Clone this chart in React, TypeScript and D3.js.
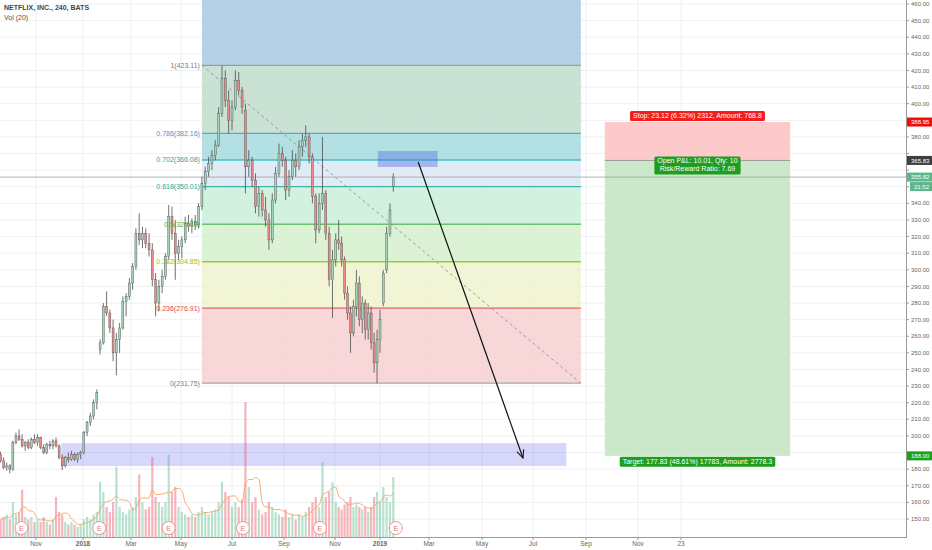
import React, { useEffect, useRef } from "react";
import * as d3 from "d3";

const W = 932;
const H = 550;

const title = "NETFLIX, INC., 240, BATS";
const volTitle = "Vol (20)";

// candles: one every 4 days from the first date, [open, high, low, close]
const firstCandle = "2017-09-16";
const candleStepDays = 4;
const candles: [number, number, number, number][] = [
  [189, 190.5, 184, 185], [185, 187, 180, 181], [181, 184, 179, 182], [182, 183, 177.5, 180],
  [180, 197, 179, 196], [196, 202, 195, 200], [200, 204, 197, 198], [198, 201, 193, 194],
  [194, 197, 191, 196], [196, 198, 192, 193], [193, 199, 192, 198], [198, 201, 195, 196],
  [196, 201, 194, 199], [199, 199.5, 192, 193], [193, 195, 189, 190], [190, 196, 189, 195],
  [195, 197, 192, 194], [194, 198, 192, 197], [197, 199, 193, 194], [194, 195, 186, 187],
  [187, 189, 179.5, 182], [182, 188, 181, 187], [187, 190, 184, 186], [186, 191, 185, 189],
  [189, 190, 185, 186], [186, 190, 184, 189], [189, 191, 186, 190], [190, 203, 189, 202],
  [202, 209, 200, 208], [208, 214, 206, 212], [212, 222, 210, 220], [220, 228, 216, 226],
  [252, 258, 249, 256], [256, 280, 255, 278], [278, 287, 272, 274], [274, 276, 262, 265],
  [265, 270, 245, 250], [250, 262, 236.5, 258], [258, 268, 250, 265], [265, 284, 264, 281],
  [281, 286, 272, 284], [284, 295, 282, 292], [292, 304, 288, 302], [302, 325, 300, 322],
  [322, 334, 315, 318], [318, 326, 313, 322], [322, 325, 313, 316], [316, 322, 308, 312],
  [312, 316, 290, 294], [294, 298, 272, 280], [280, 294, 275, 290], [290, 300, 286, 296],
  [296, 310, 294, 308], [308, 339, 306, 332], [332, 338, 318, 322], [322, 330, 294, 310],
  [310, 318, 306, 314], [314, 320, 307, 318], [318, 332, 316, 328], [328, 333, 323, 326],
  [326, 331, 322, 329], [329, 333, 324, 327], [327, 340, 325, 338], [338, 356, 336, 352],
  [352, 362, 348, 359], [359, 368, 356, 364], [364, 372, 360, 369], [369, 378, 366, 375],
  [375, 398, 374, 394], [394, 423.11, 392, 415], [415, 420, 398, 402], [402, 408, 382, 390],
  [390, 402, 384, 398], [398, 420, 396, 414], [414, 419, 405, 408], [408, 410, 394, 398],
  [396, 400, 346, 362], [362, 372, 356, 366], [366, 368, 350, 354], [354, 358, 334, 338],
  [338, 350, 332, 346], [346, 348, 332, 336], [336, 344, 326, 330], [330, 334, 312, 318],
  [318, 346, 316, 342], [342, 362, 340, 358], [358, 376, 356, 370], [370, 374, 362, 366],
  [366, 368, 342, 348], [348, 360, 344, 356], [356, 372, 354, 366], [366, 370, 356, 362],
  [362, 378, 360, 374], [374, 382, 368, 378], [378, 387, 374, 380], [380, 382, 364, 368],
  [368, 370, 340, 344], [344, 346, 316, 324], [324, 346, 322, 340], [340, 380, 336, 346],
  [346, 348, 318, 322], [322, 326, 290, 294], [294, 312, 271, 306], [306, 322, 302, 318],
  [318, 330, 312, 316], [316, 320, 302, 306], [306, 308, 282, 286], [286, 290, 270, 274],
  [274, 278, 250, 262], [262, 282, 260, 278], [278, 300, 272, 292], [292, 296, 266, 270],
  [270, 284, 262, 280], [280, 282, 258, 264], [264, 280, 258, 274], [274, 278, 252, 256],
  [256, 262, 238, 244], [244, 264, 231.75, 258], [258, 276, 250, 270], [280, 300, 278, 298],
  [300, 326, 298, 322], [322, 340, 320, 336], [350, 358, 347, 355.82],
];

// volume per candle (millions)
const volumes = [
  7, 8, 9, 7, 14, 9, 10, 19, 8, 7, 8, 6,
  7, 6, 8, 6, 5, 7, 16, 10, 9, 6, 5, 6,
  5, 4, 5, 7, 8, 7, 9, 10, 22, 18, 12, 10,
  14, 28, 12, 10, 9, 11, 12, 16, 25, 14, 11, 12,
  32, 16, 14, 12, 14, 33, 18, 20, 12, 10, 9, 8,
  9, 8, 10, 12, 10, 9, 10, 11, 14, 22, 18, 16,
  12, 14, 12, 15, 54, 20, 14, 16, 11, 9, 10, 14,
  12, 10, 9, 8, 11, 8, 9, 7, 9, 8, 10, 12,
  14, 16, 12, 30, 16, 18, 22, 14, 12, 11, 13, 14,
  16, 12, 13, 12, 11, 12, 10, 12, 16, 18, 14, 20,
  16, 14, 24,
];

const xTickDates = [
  "2017-11-01", "2018-01-01", "2018-03-01", "2018-05-01", "2018-07-01", "2018-09-01",
  "2018-11-01", "2019-01-01", "2019-03-01", "2019-05-01", "2019-07-01", "2019-09-01",
  "2019-11-01", "2019-12-23",
];
const xTickLabels = ["Nov", "2018", "Mar", "May", "Jul", "Sep", "Nov", "2019", "Mar", "May", "Jul", "Sep", "Nov", "23"];
const xTickPx = [36, 83, 131, 181, 232, 284, 335, 380, 429, 482, 533, 586, 638, 681];

const earnings = ["2017-10-13", "2018-01-21", "2018-04-16", "2018-07-14", "2018-10-14", "2019-01-20"];

// fibonacci retracement
const fibHigh = 423.11;
const fibLow = 231.75;
const fibStart = "2018-05-26";
const fibEnd = "2019-08-26";
const fibLevels = [1, 0.786, 0.702, 0.618, 0.5, 0.382, 0.236, 0];
const fibLine = ["#93a3a3", "#64a0dc", "#3fbfc6", "#3db3aa", "#6cc070", "#a0c83c", "#e06464", "#a8a8a8"];
const fibText = ["#808080", "#4f93d6", "#26a69a", "#26a69a", "#4caf50", "#9aba2a", "#e04848", "#808080"];
const fibZone = ["#aecbe2", "#c0ddcd", "#a6dadd", "#dce8f5", "#cbeed9", "#d6f0cd", "#eff3cf", "#f6d0d0"];

// short position tool
const posStart = "2019-09-23";
const posEnd = "2020-05-03";
const entry = 365.83;
const stop = 388.95;
const target = 188.0;
const stopText = "Stop: 23.12 (6.32%) 2312, Amount: 768.8";
const pnlText = ["Open P&L: 10.01, Qty: 10", "Risk/Reward Ratio: 7.69"];
const targetText = "Target: 177.83 (48.61%) 17783, Amount: 2778.3";

const lastPrice = 355.82;
const countdown = "21:52";

const boxes = [
  { start: "2018-12-29", end: "2019-03-11", top: 371.5, bottom: 361.9, fill: "rgba(80,110,225,0.42)" },
  { start: "2017-12-04", end: "2019-08-09", top: 195.7, bottom: 181.9, fill: "rgba(110,110,240,0.28)" },
];
const arrowFrom: [string, number] = ["2019-02-16", 364.9];
const arrowTo: [string, number] = ["2019-06-19", 186.7];

const font = "'Liberation Sans', Arial, sans-serif";
const parse = d3.timeParse("%Y-%m-%d");

export default function App() {
  const ref = useRef<SVGSVGElement | null>(null);

  useEffect(() => {
    const svg = d3.select(ref.current);
    svg.selectAll("*").remove();

    const right = 906;
    const bottom = 537;

    const x = d3.scaleTime().domain(xTickDates.map((d) => parse(d)!)).range(xTickPx);
    const y = d3.scaleLinear().domain([150, 460]).range([519, 4]);
    const v = d3.scaleLinear().domain([0, 54]).range([bottom, bottom - 135]);
    const xd = (s: string) => x(parse(s)!);

    svg.append("rect").attr("width", W).attr("height", H).attr("fill", "#fff");

    svg.append("defs").append("clipPath").attr("id", "plot")
      .append("rect").attr("width", right).attr("height", bottom);

    const marker = svg.select("defs").append("marker")
      .attr("id", "arrow").attr("viewBox", "0 -5 10 10").attr("refX", 9).attr("refY", 0)
      .attr("markerWidth", 9).attr("markerHeight", 9).attr("orient", "auto")
      .attr("markerUnits", "userSpaceOnUse");
    marker.append("path").attr("d", "M0,-4L9,0L0,4").attr("fill", "none").attr("stroke", "#111").attr("stroke-width", 1.2);

    const yTicks = d3.range(150, 461, 10);

    // grid
    const grid = svg.append("g");
    yTicks.forEach((t) => {
      grid.append("line").attr("x1", 0).attr("x2", right).attr("y1", y(t)).attr("y2", y(t))
        .attr("stroke", "#eef0f3").attr("stroke-width", 1);
    });
    xTickDates.forEach((d) => {
      grid.append("line").attr("x1", xd(d)).attr("x2", xd(d)).attr("y1", 0).attr("y2", bottom)
        .attr("stroke", "#eef0f3").attr("stroke-width", 1);
    });

    const plot = svg.append("g").attr("clip-path", "url(#plot)");

    // fib zones
    const fx0 = xd(fibStart);
    const fx1 = xd(fibEnd);
    const fibPrice = (l: number) => fibLow + l * (fibHigh - fibLow);
    plot.append("rect").attr("x", fx0).attr("width", fx1 - fx0)
      .attr("y", 0).attr("height", y(fibHigh)).attr("fill", fibZone[0]).attr("opacity", 0.9);
    for (let i = 0; i < fibLevels.length - 1; i++) {
      const a = y(fibPrice(fibLevels[i]));
      const b = y(fibPrice(fibLevels[i + 1]));
      plot.append("rect").attr("x", fx0).attr("width", fx1 - fx0)
        .attr("y", a).attr("height", b - a).attr("fill", fibZone[i + 1]).attr("opacity", 0.85);
    }
    fibLevels.forEach((l, i) => {
      const py = y(fibPrice(l));
      plot.append("line").attr("x1", fx0).attr("x2", fx1).attr("y1", py).attr("y2", py)
        .attr("stroke", fibLine[i]).attr("stroke-width", 1.3);
    });
    plot.append("line")
      .attr("x1", fx0).attr("y1", y(fibHigh)).attr("x2", fx1).attr("y2", y(fibLow))
      .attr("stroke", "#999").attr("stroke-width", 1).attr("stroke-dasharray", "3,3");

    // position tool
    const px0 = xd(posStart);
    const px1 = xd(posEnd);
    plot.append("rect").attr("x", px0).attr("width", px1 - px0)
      .attr("y", y(stop)).attr("height", y(entry) - y(stop)).attr("fill", "#fccaca");
    plot.append("rect").attr("x", px0).attr("width", px1 - px0)
      .attr("y", y(entry)).attr("height", y(target) - y(entry)).attr("fill", "#cbe8cb");
    plot.append("line").attr("x1", px0).attr("x2", px1).attr("y1", y(entry)).attr("y2", y(entry))
      .attr("stroke", "#999").attr("stroke-width", 1);

    // boxes
    boxes.forEach((b) => {
      plot.append("rect").attr("x", xd(b.start)).attr("width", xd(b.end) - xd(b.start))
        .attr("y", y(b.top)).attr("height", y(b.bottom) - y(b.top)).attr("fill", b.fill);
    });

    // last price line
    plot.append("line").attr("x1", 0).attr("x2", right).attr("y1", y(lastPrice)).attr("y2", y(lastPrice))
      .attr("stroke", "#a0a0a0").attr("stroke-width", 0.8);

    // volume
    const start = parse(firstCandle)!;
    const cdate = (i: number) => d3.timeDay.offset(start, i * candleStepDays);
    const vg = plot.append("g");
    volumes.forEach((vol, i) => {
      const c = candles[i];
      const up = c[3] >= c[0];
      vg.append("rect").attr("x", x(cdate(i)) - 1.1).attr("width", 2.2)
        .attr("y", v(vol)).attr("height", bottom - v(vol))
        .attr("fill", up ? "rgba(83,185,135,0.42)" : "rgba(235,77,92,0.42)");
    });
    const ma = volumes.map((_, i) => d3.mean(volumes.slice(Math.max(0, i - 4), i + 1))!);
    vg.append("path").datum(ma)
      .attr("fill", "none").attr("stroke", "#f4a460").attr("stroke-width", 0.9)
      .attr("d", d3.line<number>().x((_, i) => x(cdate(i))).y((d) => v(d)).curve(d3.curveMonotoneX));

    // candles
    const cg = plot.append("g");
    candles.forEach(([o, h, l, c], i) => {
      const cx = x(cdate(i));
      cg.append("line").attr("x1", cx).attr("x2", cx).attr("y1", y(h)).attr("y2", y(l))
        .attr("stroke", "#4d4d4d").attr("stroke-width", 0.8);
      const top = y(Math.max(o, c));
      const hgt = Math.max(0.8, y(Math.min(o, c)) - top);
      cg.append("rect").attr("x", cx - 1).attr("width", 2).attr("y", top).attr("height", hgt)
        .attr("fill", c >= o ? "#9fd4b9" : "#ee8a8a").attr("stroke", "#4d4d4d").attr("stroke-width", 0.4);
    });

    // arrow
    plot.append("line")
      .attr("x1", xd(arrowFrom[0])).attr("y1", y(arrowFrom[1]))
      .attr("x2", xd(arrowTo[0])).attr("y2", y(arrowTo[1]))
      .attr("stroke", "#111").attr("stroke-width", 1.2).attr("marker-end", "url(#arrow)");

    // earnings markers
    earnings.forEach((d) => {
      const ex = xd(d);
      plot.append("circle").attr("cx", ex).attr("cy", 528).attr("r", 6.5)
        .attr("fill", "#fff").attr("stroke", "#f09090").attr("stroke-width", 1);
      plot.append("text").attr("x", ex).attr("y", 528).attr("dy", "0.36em")
        .attr("text-anchor", "middle").attr("font-family", font).attr("font-size", 7)
        .attr("fill", "#e57373").text("E");
    });

    // fib labels
    fibLevels.forEach((l, i) => {
      svg.append("text").attr("x", fx0 - 2).attr("y", y(fibPrice(l))).attr("dy", "0.35em")
        .attr("text-anchor", "end").attr("font-family", font).attr("font-size", 7)
        .attr("fill", fibText[i]).text(`${l}(${fibPrice(l).toFixed(2)})`);
    });

    // tag helper
    const tag = (lines: string[], cx: number, yTop: number, bg: string) => {
      const g = svg.append("g");
      const t = g.append("text").attr("font-family", font).attr("font-size", 7)
        .attr("fill", "#fff").attr("text-anchor", "middle");
      lines.forEach((s, k) => {
        t.append("tspan").attr("x", cx).attr("y", yTop + 7 + k * 8).text(s);
      });
      const bb = (t.node() as SVGTextElement).getBBox();
      g.insert("rect", "text").attr("x", bb.x - 3).attr("y", yTop).attr("width", bb.width + 6)
        .attr("height", lines.length * 8 + 2).attr("rx", 1.5).attr("fill", bg);
    };
    const pcx = (px0 + px1) / 2;
    tag([stopText], pcx, y(stop) - 11, "#f51d1d");
    tag(pnlText, pcx, y(entry) - 4, "#1f9d1f");
    tag([targetText], pcx, y(target) + 1, "#1f9d1f");

    // right axis
    const tags = [
      { price: stop, label: stop.toFixed(2), bg: "#f20d0d", dy: 0, inset: 0 },
      { price: entry, label: entry.toFixed(2), bg: "#404040", dy: 0, inset: 0 },
      { price: lastPrice, label: lastPrice.toFixed(2), bg: "#5cb88a", dy: 0, inset: 0 },
      { price: lastPrice, label: countdown, bg: "#5cb88a", dy: 9.5, inset: 3 },
      { price: target, label: target.toFixed(2), bg: "#1fa01f", dy: 0, inset: 0 },
    ];
    const tagYs = tags.map((t) => y(t.price) + t.dy);
    const ax = svg.append("g");
    ax.append("line").attr("x1", right + 0.5).attr("x2", right + 0.5).attr("y1", 0).attr("y2", bottom)
      .attr("stroke", "#9a9a9a");
    yTicks.forEach((t) => {
      ax.append("line").attr("x1", right).attr("x2", right + 3).attr("y1", y(t)).attr("y2", y(t))
        .attr("stroke", "#9a9a9a");
      if (tagYs.some((ty) => Math.abs(ty - y(t)) < 8)) return;
      ax.append("text").attr("x", right + 5).attr("y", y(t)).attr("dy", "0.35em")
        .attr("font-family", font).attr("font-size", 6).attr("fill", "#666").text(t.toFixed(2));
    });
    tags.forEach((t, k) => {
      const py = tagYs[k];
      ax.append("rect").attr("x", right + 1 + t.inset).attr("y", py - 4.5).attr("width", W - right - 1 - t.inset)
        .attr("height", 9).attr("fill", t.bg);
      ax.append("text").attr("x", right + 5 + t.inset).attr("y", py).attr("dy", "0.35em")
        .attr("font-family", font).attr("font-size", 6).attr("fill", "#fff").text(t.label);
    });

    // bottom axis
    ax.append("line").attr("x1", 0).attr("x2", right + 1).attr("y1", bottom + 0.5).attr("y2", bottom + 0.5)
      .attr("stroke", "#9a9a9a");
    xTickDates.forEach((d, i) => {
      ax.append("line").attr("x1", xd(d)).attr("x2", xd(d)).attr("y1", bottom).attr("y2", bottom + 3)
        .attr("stroke", "#9a9a9a");
      ax.append("text").attr("x", xd(d)).attr("y", 546).attr("text-anchor", "middle")
        .attr("font-family", font).attr("font-size", 6.5).attr("fill", "#666")
        .attr("font-weight", /^\d{4}$/.test(xTickLabels[i]) ? 700 : 400).text(xTickLabels[i]);
    });

    // legend
    svg.append("text").attr("x", 4).attr("y", 10).attr("font-family", font).attr("font-size", 7)
      .attr("font-weight", 700).attr("fill", "#444").text(title);
    svg.append("text").attr("x", 4).attr("y", 20).attr("font-family", font).attr("font-size", 7)
      .attr("fill", "#555").text(volTitle);
  }, []);

  return <svg ref={ref} width={W} height={H} style={{ position: "absolute", left: 0, top: 0 }} />;
}
